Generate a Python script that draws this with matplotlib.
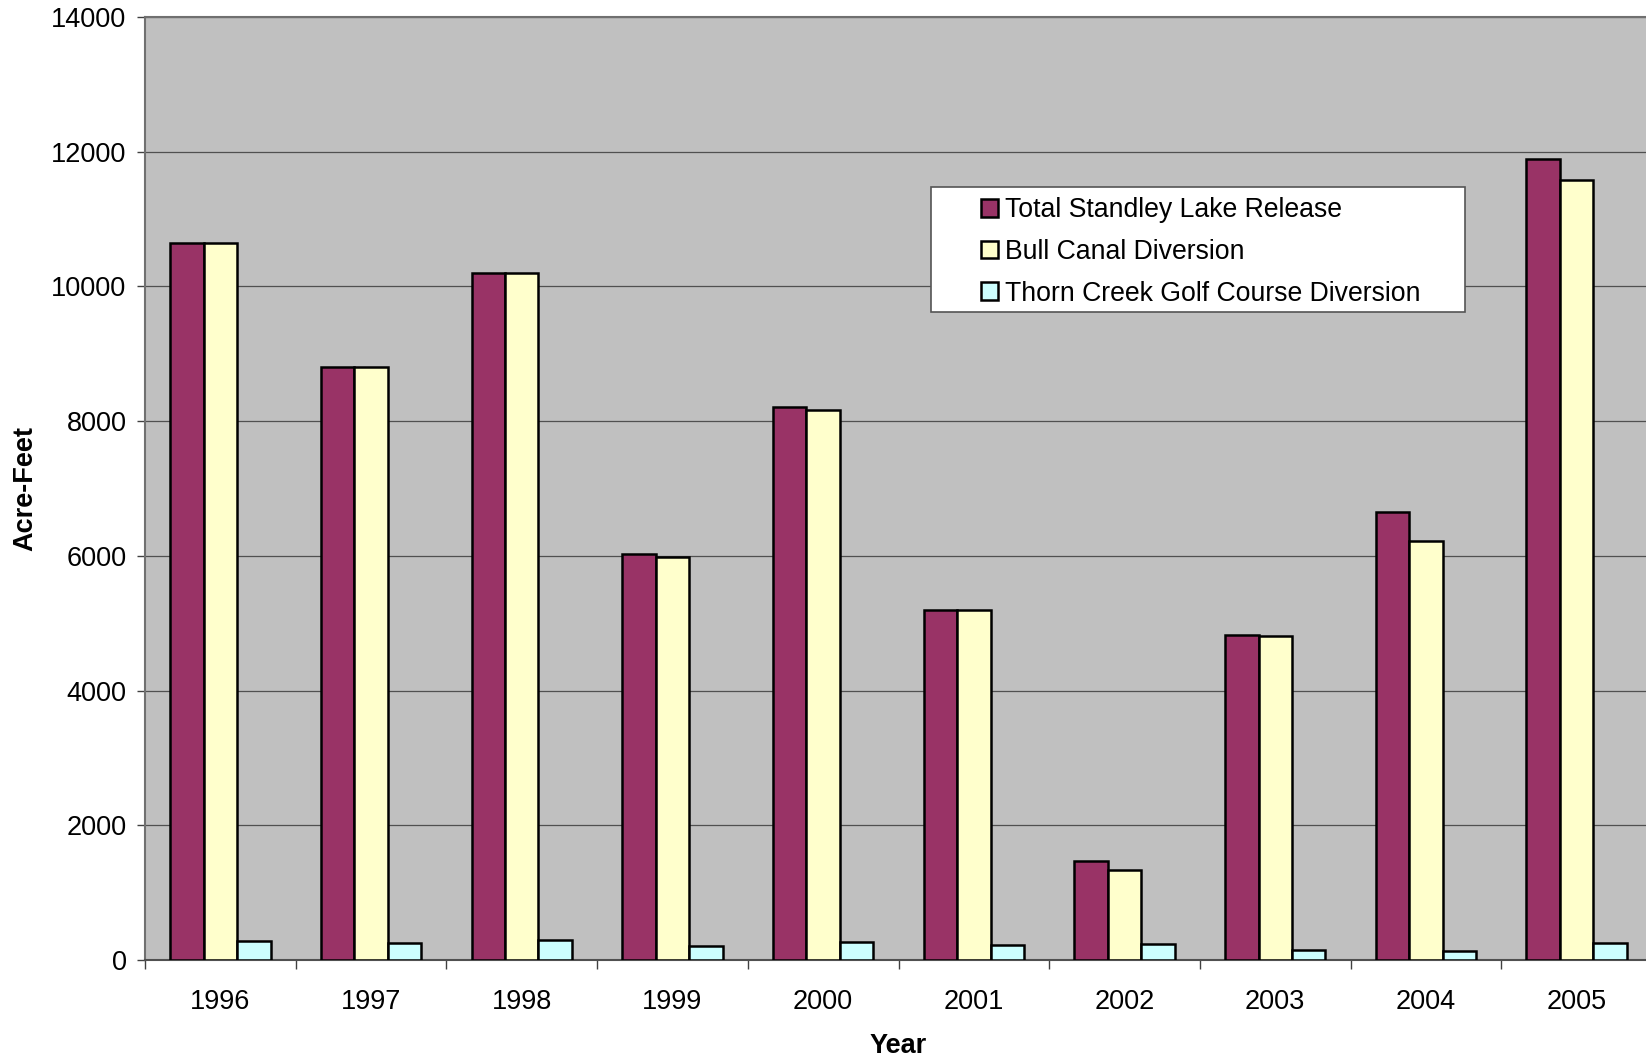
import matplotlib.pyplot as plt
from matplotlib.patches import Rectangle
import numpy as np

plt.rcParams['font.family'] = ['Liberation Sans', 'DejaVu Sans']

# Data (acre-feet)
years = ['1996', '1997', '1998', '1999', '2000', '2001', '2002', '2003', '2004', '2005']
total_release = [10640, 8800, 10200, 6030, 8210, 5200, 1465, 4830, 6650, 11890]
bull_canal = [10640, 8800, 10200, 5980, 8160, 5200, 1340, 4810, 6215, 11575]
thorn_creek = [280, 250, 295, 215, 265, 220, 235, 155, 140, 250]

series = [
    ('Total Standley Lake Release', total_release, '#993366'),
    ('Bull Canal Diversion', bull_canal, '#FFFFCC'),
    ('Thorn Creek Golf Course Diversion', thorn_creek, '#CCFFFF'),
]

fig = plt.figure(figsize=(16.46, 10.58), dpi=100)
# plot area runs a little past the right edge, like the original
ax = fig.add_axes([145 / 1646, 1 - 960 / 1058, 1507 / 1646, 943 / 1058])
ax.set_facecolor('#C0C0C0')

x = np.arange(len(years))
w = 1 / 4.5  # Excel gap width 150%
for k, (name, vals, col) in enumerate(series):
    ax.bar(x + (k - 1) * w, vals, width=w, color=col, edgecolor='black',
           linewidth=1.8, label=name, zorder=3)

ax.set_xlim(-0.5, len(years) - 0.5)
ax.set_ylim(0, 14000)
ax.set_yticks(np.arange(0, 14001, 2000))
ax.yaxis.grid(True, color='#505050', linewidth=0.9, zorder=1)
ax.set_axisbelow(True)

ax.set_xticks(x)
ax.set_xticklabels(years)
ax.set_xticks(np.arange(-0.5, len(years)), minor=True)
ax.tick_params(axis='x', which='major', length=0, pad=21, labelsize=19.5)
ax.tick_params(axis='x', which='minor', length=6.5, width=1, color='#404040', direction='out')
ax.tick_params(axis='y', length=5.8, width=1, color='#404040', pad=7.5, labelsize=19.5)

for s in ax.spines.values():
    s.set_color('#707070')
    s.set_linewidth(1.5)
ax.spines['bottom'].set_color('#505050')

ax.set_ylabel('Acre-Feet', fontsize=19.5, fontweight='bold')
ax.yaxis.set_label_coords(-0.071, 0.5)
ax.set_xlabel('Year', fontsize=19.5, fontweight='bold')
ax.xaxis.set_label_coords(0.5, -0.077)

# legend box
box = Rectangle((0.5216, 0.6872), 0.876 - 0.5216, 0.8197 - 0.6872,
                transform=ax.transAxes, facecolor='white', edgecolor='#555555',
                linewidth=1.2, zorder=5)
ax.add_patch(box)
leg = ax.legend(loc='center left', bbox_to_anchor=(0.5547, 0.751), frameon=False,
                fontsize=19.2, handlelength=0.64, handleheight=0.64, handletextpad=0.26,
                labelspacing=0.59, borderpad=0, borderaxespad=0)
leg.set_zorder(6)

fig.savefig('out.png', dpi=100)
